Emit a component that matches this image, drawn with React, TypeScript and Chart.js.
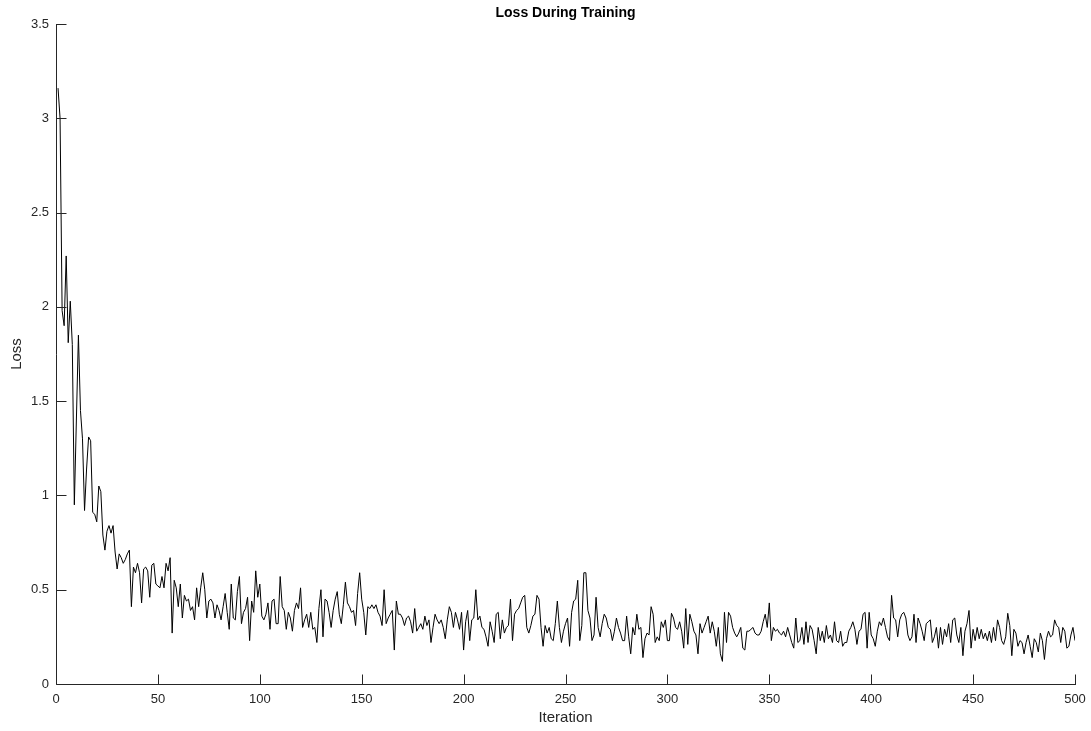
import React, { useEffect, useRef } from "react";
import { Chart, registerables } from "chart.js";

Chart.register(...registerables);

// Loss value for each iteration (iterations 1..500)
const lossValues: number[] = [
  3.16, 3.0, 1.98, 1.9, 2.27, 1.81, 2.03, 1.8, 0.95, 1.4,
  1.85, 1.45, 1.3, 0.92, 1.14, 1.31, 1.29, 0.91, 0.9, 0.86,
  1.05, 1.02, 0.79, 0.71, 0.81, 0.84, 0.8, 0.84, 0.7, 0.61,
  0.69, 0.67, 0.64, 0.66, 0.69, 0.71, 0.41, 0.62, 0.59, 0.64,
  0.59, 0.43, 0.61, 0.62, 0.6, 0.46, 0.63, 0.64, 0.53, 0.52,
  0.51, 0.57, 0.51, 0.64, 0.6, 0.67, 0.27, 0.55, 0.51, 0.41,
  0.53, 0.35, 0.47, 0.44, 0.45, 0.39, 0.41, 0.34, 0.51, 0.41,
  0.51, 0.59, 0.5, 0.35, 0.44, 0.45, 0.43, 0.35, 0.42, 0.39,
  0.34, 0.41, 0.48, 0.38, 0.29, 0.53, 0.35, 0.34, 0.49, 0.57,
  0.32, 0.38, 0.4, 0.46, 0.23, 0.44, 0.38, 0.6, 0.46, 0.53,
  0.36, 0.34, 0.37, 0.43, 0.29, 0.44, 0.45, 0.32, 0.32, 0.57,
  0.41, 0.39, 0.29, 0.38, 0.35, 0.28, 0.39, 0.43, 0.4, 0.51,
  0.3, 0.34, 0.37, 0.3, 0.38, 0.29, 0.3, 0.22, 0.4, 0.5,
  0.25, 0.45, 0.44, 0.38, 0.3, 0.39, 0.45, 0.49, 0.37, 0.32,
  0.42, 0.54, 0.43, 0.41, 0.38, 0.39, 0.31, 0.48, 0.59, 0.45,
  0.38, 0.26, 0.41, 0.4, 0.42, 0.4, 0.42, 0.38, 0.36, 0.31,
  0.5, 0.32, 0.35, 0.37, 0.39, 0.18, 0.44, 0.37, 0.37, 0.35,
  0.31, 0.35, 0.36, 0.33, 0.27, 0.4, 0.28, 0.3, 0.32, 0.29,
  0.36, 0.31, 0.34, 0.22, 0.3, 0.37, 0.34, 0.32, 0.34, 0.3,
  0.24, 0.34, 0.41, 0.38, 0.3, 0.38, 0.34, 0.29, 0.38, 0.18,
  0.33, 0.39, 0.23, 0.34, 0.35, 0.5, 0.34, 0.36, 0.3, 0.29,
  0.25, 0.2, 0.33, 0.28, 0.22, 0.37, 0.38, 0.24, 0.34, 0.27,
  0.3, 0.31, 0.45, 0.23, 0.37, 0.39, 0.4, 0.43, 0.46, 0.47,
  0.3, 0.27, 0.31, 0.36, 0.37, 0.47, 0.45, 0.3, 0.2, 0.31,
  0.27, 0.3, 0.24, 0.23, 0.32, 0.44, 0.3, 0.22, 0.28, 0.32,
  0.35, 0.2, 0.38, 0.44, 0.45, 0.55, 0.23, 0.31, 0.59, 0.59,
  0.39, 0.35, 0.23, 0.26, 0.46, 0.3, 0.25, 0.32, 0.37, 0.35,
  0.3, 0.29, 0.23, 0.28, 0.35, 0.3, 0.27, 0.23, 0.23, 0.36,
  0.25, 0.16, 0.3, 0.26, 0.37, 0.29, 0.3, 0.14, 0.24, 0.27,
  0.26, 0.41, 0.37, 0.22, 0.25, 0.23, 0.33, 0.3, 0.34, 0.23,
  0.23, 0.375, 0.35, 0.3, 0.29, 0.33, 0.28, 0.19, 0.4, 0.21,
  0.37, 0.33, 0.28, 0.26, 0.16, 0.32, 0.27, 0.3, 0.33, 0.36,
  0.27, 0.33, 0.28, 0.2, 0.3, 0.16, 0.12, 0.38, 0.22, 0.38,
  0.36, 0.3, 0.27, 0.25, 0.27, 0.3, 0.19, 0.18, 0.28, 0.28,
  0.29, 0.3, 0.27, 0.26, 0.26, 0.28, 0.33, 0.37, 0.3, 0.43,
  0.23, 0.3, 0.28, 0.29, 0.27, 0.26, 0.28, 0.25, 0.3, 0.26,
  0.22, 0.19, 0.35, 0.22, 0.23, 0.3, 0.21, 0.33, 0.22, 0.31,
  0.29, 0.23, 0.16, 0.3, 0.23, 0.28, 0.22, 0.31, 0.24, 0.26,
  0.22, 0.33, 0.23, 0.22, 0.28, 0.2, 0.22, 0.22, 0.28, 0.3,
  0.33, 0.29, 0.21, 0.28, 0.29, 0.37, 0.38, 0.19, 0.38, 0.26,
  0.24, 0.2, 0.28, 0.33, 0.31, 0.35, 0.3, 0.25, 0.23, 0.47,
  0.35, 0.34, 0.25, 0.34, 0.37, 0.38, 0.35, 0.26, 0.23, 0.25,
  0.37, 0.22, 0.35, 0.32, 0.28, 0.23, 0.32, 0.33, 0.34, 0.22,
  0.25, 0.3, 0.19, 0.3, 0.21, 0.29, 0.25, 0.32, 0.22, 0.34,
  0.35, 0.26, 0.22, 0.3, 0.15, 0.28, 0.32, 0.39, 0.19, 0.29,
  0.23, 0.3, 0.24, 0.29, 0.24, 0.27, 0.23, 0.28, 0.22, 0.3,
  0.23, 0.34, 0.3, 0.23, 0.21, 0.25, 0.375, 0.31, 0.15, 0.29,
  0.27, 0.2, 0.23, 0.22, 0.16, 0.22, 0.26, 0.2, 0.14, 0.24,
  0.22, 0.17, 0.27, 0.23, 0.13, 0.24, 0.28, 0.25, 0.26, 0.34,
  0.31, 0.3, 0.22, 0.3, 0.28, 0.19, 0.2, 0.26, 0.3, 0.23,
];

const xTickValues: number[] = [0, 50, 100, 150, 200, 250, 300, 350, 400, 450, 500];
const xTickLabels: string[] = ["0", "50", "100", "150", "200", "250", "300", "350", "400", "450", "500"];
const yTickValues: number[] = [0, 0.5, 1, 1.5, 2, 2.5, 3, 3.5];
const yTickLabels: string[] = ["0", "0.5", "1", "1.5", "2", "2.5", "3", "3.5"];

const titleText = "Loss During Training";
const xAxisTitle = "Iteration";
const yAxisTitle = "Loss";

const FONT = "'Liberation Sans', Arial, Helvetica, sans-serif";
const AXIS_COLOR = "#262626";

export default function App() {
  const canvasRef = useRef<HTMLCanvasElement | null>(null);

  useEffect(() => {
    const canvas = canvasRef.current;
    if (!canvas) return;

    const points = lossValues.map((v, i) => ({ x: i + 1, y: v }));

    const matlabAxes = {
      id: "matlabAxes",
      afterDraw(chart: any) {
        const { ctx, chartArea: a, scales } = chart;
        ctx.save();
        ctx.strokeStyle = AXIS_COLOR;
        ctx.lineWidth = 1;
        const lx = Math.round(a.left) + 0.5;
        const by = Math.round(a.bottom) + 0.5;
        ctx.beginPath();
        ctx.moveTo(lx, a.top);
        ctx.lineTo(lx, by);
        ctx.lineTo(a.right + 1, by);
        // inward ticks on x axis
        xTickValues.forEach((v) => {
          const px = Math.round(scales.x.getPixelForValue(v)) + 0.5;
          ctx.moveTo(px, by);
          ctx.lineTo(px, by - 10);
        });
        // inward ticks on y axis
        yTickValues.forEach((v) => {
          const py = Math.round(scales.y.getPixelForValue(v)) + 0.5;
          ctx.moveTo(lx, py);
          ctx.lineTo(lx + 10, py);
        });
        ctx.stroke();

        const cx = (a.left + a.right) / 2;
        ctx.textAlign = "center";
        ctx.textBaseline = "middle";
        ctx.fillStyle = "#000000";
        ctx.font = `bold 14px ${FONT}`;
        ctx.fillText(titleText, cx, 13);

        ctx.fillStyle = AXIS_COLOR;
        ctx.font = `15px ${FONT}`;
        ctx.fillText(xAxisTitle, cx, 718);

        ctx.translate(17, (a.top + a.bottom) / 2);
        ctx.rotate(-Math.PI / 2);
        ctx.fillText(yAxisTitle, 0, 0);
        ctx.restore();
      },
    };

    const chart = new Chart(canvas, {
      type: "line",
      data: {
        datasets: [
          {
            data: points,
            borderColor: "#000000",
            borderWidth: 1,
            pointRadius: 0,
            tension: 0,
            fill: false,
          },
        ],
      },
      options: {
        animation: false,
        responsive: false,
        devicePixelRatio: 1,
        layout: { padding: { top: 24, right: 16, left: 0, bottom: 0 } },
        plugins: {
          legend: { display: false },
          title: { display: false },
          tooltip: { enabled: false },
        },
        scales: {
          x: {
            type: "linear",
            min: 0,
            max: 500,
            grid: { display: false, drawTicks: false },
            border: { display: false },
            afterBuildTicks: (s: any) => {
              s.ticks = xTickValues.map((v) => ({ value: v }));
            },
            afterFit: (s: any) => {
              s.height = 47;
              s.paddingLeft = 0;
              s.paddingRight = 0;
            },
            ticks: {
              autoSkip: false,
              maxRotation: 0,
              padding: 8,
              color: AXIS_COLOR,
              font: { size: 13, family: FONT },
              callback: (v: any) => {
                const i = xTickValues.indexOf(Number(v));
                return i >= 0 ? xTickLabels[i] : "";
              },
            },
          },
          y: {
            type: "linear",
            min: 0,
            max: 3.5,
            grid: { display: false, drawTicks: false },
            border: { display: false },
            afterBuildTicks: (s: any) => {
              s.ticks = yTickValues.map((v) => ({ value: v }));
            },
            afterFit: (s: any) => {
              s.width = 56;
              s.paddingTop = 0;
              s.paddingBottom = 0;
            },
            ticks: {
              autoSkip: false,
              padding: 7,
              color: AXIS_COLOR,
              font: { size: 13, family: FONT },
              callback: (v: any) => {
                const i = yTickValues.indexOf(Number(v));
                return i >= 0 ? yTickLabels[i] : "";
              },
            },
          },
        },
      },
      plugins: [matlabAxes],
    });

    return () => {
      chart.destroy();
    };
  }, []);

  return (
    <div style={{ position: "absolute", left: 0, top: 0, width: 1091, height: 731, background: "#ffffff" }}>
      <canvas ref={canvasRef} width={1091} height={731} style={{ width: 1091, height: 731, display: "block" }} />
    </div>
  );
}
